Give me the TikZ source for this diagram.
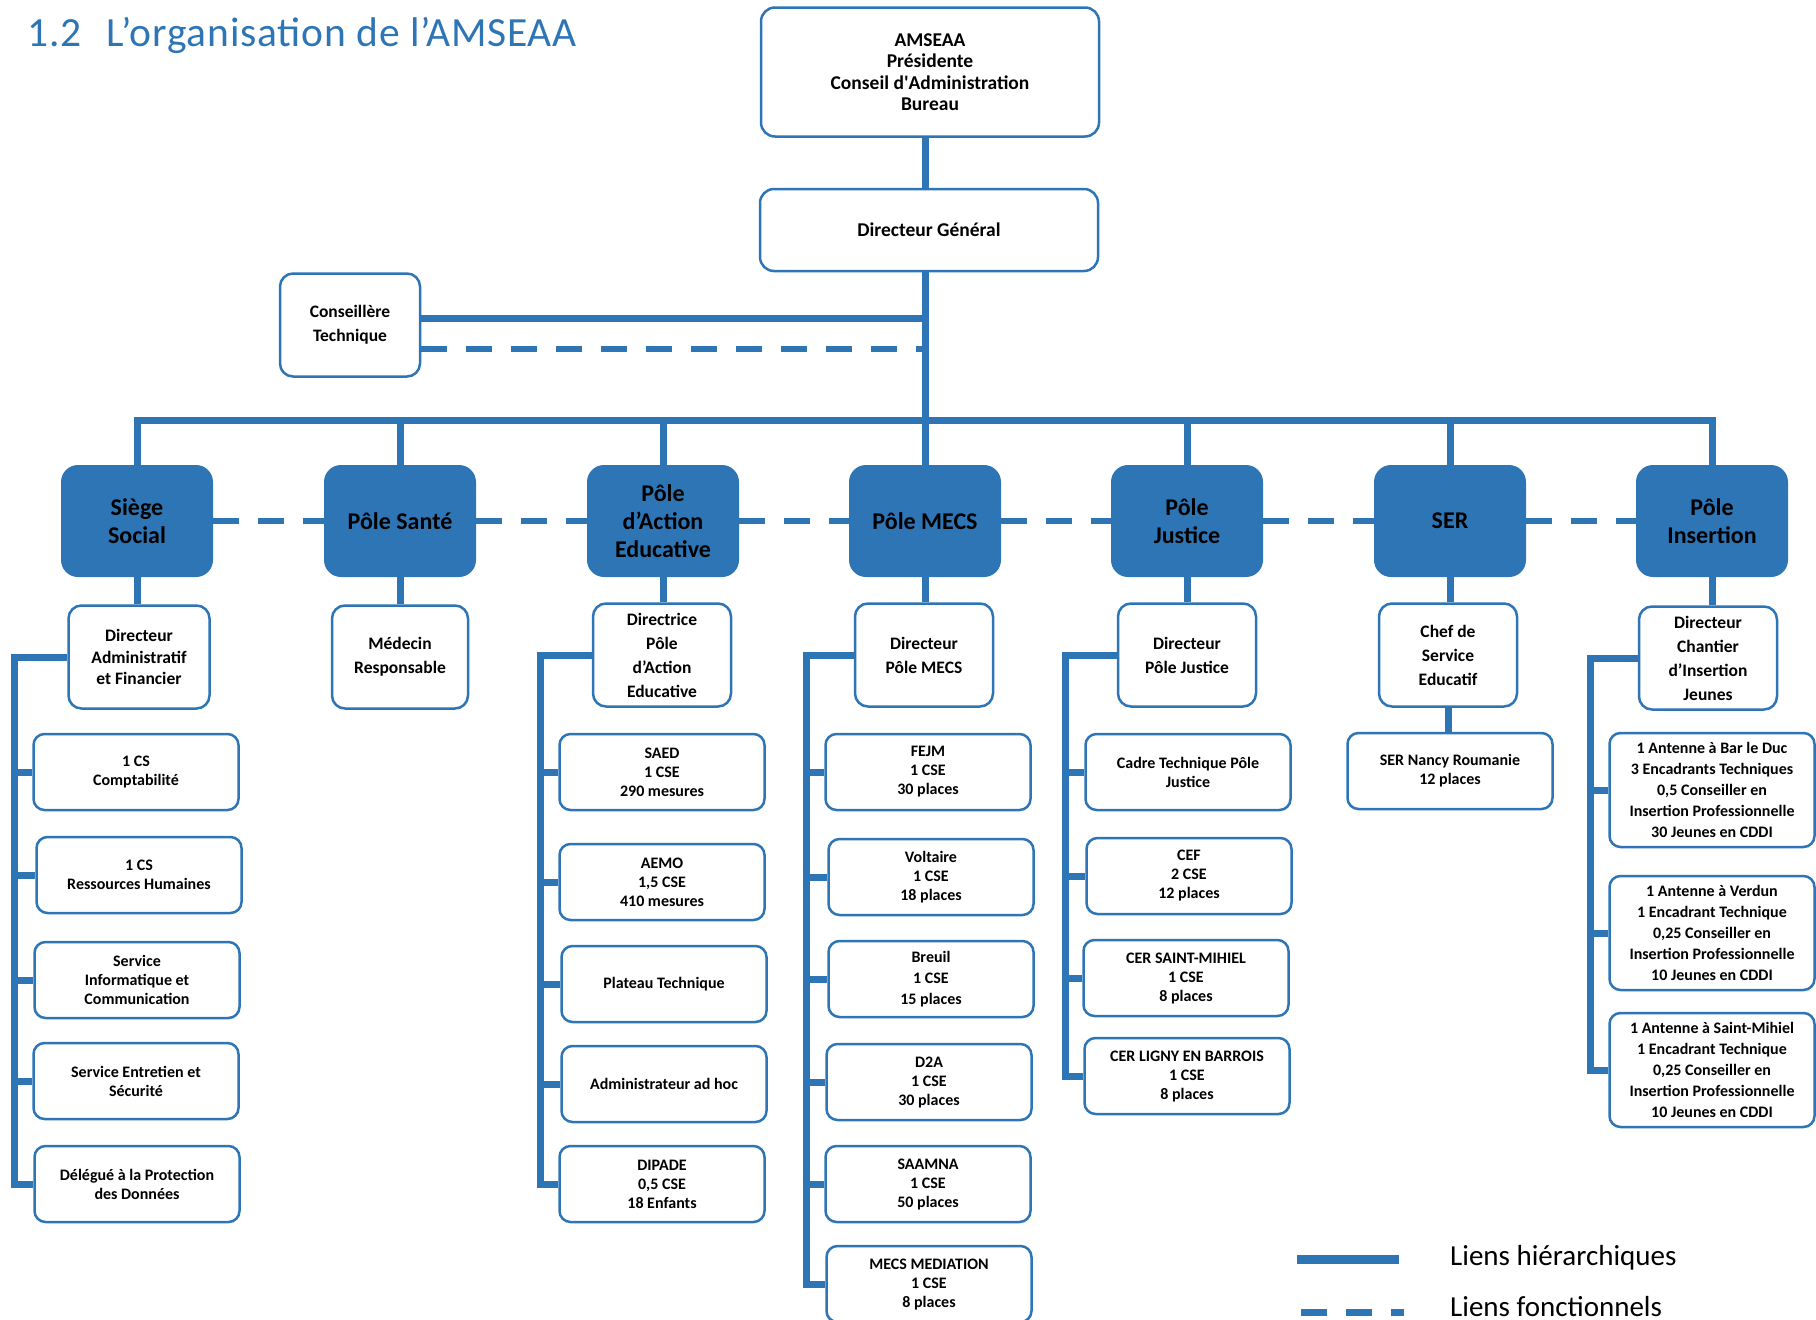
\documentclass[tikz,border=0pt]{standalone}
\usepackage{fontspec}
\setmainfont{Carlito}
\definecolor{amsblue}{RGB}{46,117,182}
\begin{document}
\begin{tikzpicture}[x=1pt, y=-1pt,
  every node/.style={align=center, inner sep=0pt},
  headbox/.style={draw=amsblue, line width=2.5pt, rounded corners=14pt, minimum width=338pt, font=\bfseries\fontsize{19.5}{21.5}\selectfont},
  pole/.style={fill=amsblue, rounded corners=17pt, minimum width=152pt, minimum height=112pt, font=\bfseries\fontsize{24}{28}\selectfont},
  chef/.style={draw=amsblue, line width=2.5pt, rounded corners=13pt, minimum width=138pt, minimum height=103pt, font=\bfseries\fontsize{17.5}{24}\selectfont},
  unit/.style={draw=amsblue, line width=2.5pt, rounded corners=11pt, minimum width=205pt, minimum height=76pt, font=\bfseries\fontsize{16}{19}\selectfont},
  antenne/.style={unit, minimum height=114pt, font=\bfseries\fontsize{16}{21}\selectfont},
  hier/.style={draw=amsblue, line width=7pt},
  fonct/.style={draw=amsblue, line width=6pt, dash pattern=on 26pt off 19pt}]
  \useasboundingbox (0,0) rectangle (1816,1320);
  \node [anchor=base west, text=amsblue, font=\fontsize{41.5}{42}\selectfont\addfontfeature{LetterSpace=2}] (titre) at (27,46.5) {1.2\hspace{25pt}L’organisation de l’AMSEAA};

  \node [headbox, minimum height=129pt] (amseaa) at (930,72) {AMSEAA\\Présidente\\Conseil d\textquotesingle Administration\\Bureau};
  \node [headbox, minimum height=82pt] (dg) at (929,230) {Directeur Général};
  \node [chef, minimum width=140pt] (conseil) at (350,325) {Conseillère\\Technique};

  \node [pole] (siege) at (137,521) {Siège\\Social};
  \node [pole] (sante) at (400,521) {Pôle Santé};
  \node [pole] (pae) at (663,521) {Pôle\\d’Action\\Educative};
  \node [pole] (mecs) at (925,521) {Pôle MECS};
  \node [pole] (justice) at (1187,521) {Pôle\\Justice};
  \node [pole] (ser) at (1450,521) {SER};
  \node [pole] (insertion) at (1712,521) {Pôle\\Insertion};

  \node [chef, minimum width=141pt, font=\bfseries\fontsize{17.5}{21.5}\selectfont] (daf) at (139,657) {Directeur\\Administratif\\et Financier};
  \node [chef, minimum width=136pt] (medecin) at (400,657) {Médecin\\Responsable};
  \node [chef] (dirpae) at (662,655) {Directrice\\Pôle\\d’Action\\Educative};
  \node [chef] (dirmecs) at (924,655) {Directeur\\Pôle MECS};
  \node [chef] (dirjustice) at (1187,655) {Directeur\\Pôle Justice};
  \node [chef] (chefser) at (1448,655) {Chef de\\Service\\Educatif};
  \node [chef] (dirinsertion) at (1708,658) {Directeur\\Chantier\\d’Insertion\\Jeunes};

  \node [unit] (compta) at (136,772) {1 CS\\Comptabilité};
  \node [unit] (rh) at (139,875) {1 CS\\Ressources Humaines};
  \node [unit] (info) at (137,980) {Service\\Informatique et\\Communication};
  \node [unit] (entretien) at (136,1081) {Service Entretien et\\Sécurité};
  \node [unit] (rgpd) at (137,1184) {Délégué à la Protection\\des Données};

  \node [unit] (saed) at (662,772) {SAED\\1 CSE\\290 mesures};
  \node [unit] (aemo) at (662,882) {AEMO\\1,5 CSE\\410 mesures};
  \node [unit] (plateau) at (664,984) {Plateau Technique};
  \node [unit] (adhoc) at (664,1084) {Administrateur ad hoc};
  \node [unit] (dipade) at (662,1184) {DIPADE\\0,5 CSE\\18 Enfants};

  \node [unit] (fejm) at (928,772) {FEJM\\1 CSE\\30 places};
  \node [unit] (voltaire) at (931,877) {Voltaire\\1 CSE\\18 places};
  \node [unit, font=\bfseries\fontsize{16}{21}\selectfont] (breuil) at (931,979) {Breuil\\1 CSE\\15 places};
  \node [unit] (dtwoa) at (929,1082) {D2A\\1 CSE\\30 places};
  \node [unit] (saamna) at (928,1184) {SAAMNA\\1 CSE\\50 places};
  \node [unit] (mediation) at (929,1284) {MECS MEDIATION\\1 CSE\\8 places};

  \node [unit] (cadre) at (1188,772) {Cadre Technique Pôle\\Justice};
  \node [unit] (cef) at (1189,876) {CEF\\2 CSE\\12 places};
  \node [unit] (cersm) at (1186,978) {CER SAINT-MIHIEL\\1 CSE\\8 places};
  \node [unit] (cerlb) at (1187,1076) {CER LIGNY EN BARROIS\\1 CSE\\8 places};

  \node [unit] (nancy) at (1450,771) {SER Nancy Roumanie\\12 places};

  \node [antenne] (bar) at (1712,790) {1 Antenne à Bar le Duc\\3 Encadrants Techniques\\0,5 Conseiller en\\Insertion Professionnelle\\30 Jeunes en CDDI};
  \node [antenne] (verdun) at (1712,933) {1 Antenne à Verdun\\1 Encadrant Technique\\0,25 Conseiller en\\Insertion Professionnelle\\10 Jeunes en CDDI};
  \node [antenne] (stmihiel) at (1712,1070) {1 Antenne à Saint-Mihiel\\1 Encadrant Technique\\0,25 Conseiller en\\Insertion Professionnelle\\10 Jeunes en CDDI};

  \coordinate (bus) at (925,420);
  \coordinate (tsolid) at (925,318);
  \coordinate (tdash) at (925,349);
  \coordinate (sgs) at (14,0);
  \coordinate (sgp) at (540,0);
  \coordinate (sgm) at (806,0);
  \coordinate (sgj) at (1065,0);
  \coordinate (sgi) at (1590,0);

  \draw [hier] (amseaa.south -| bus) -- (dg.north -| bus);
  \draw [hier] (dg.south -| bus) -- (bus);
  \draw [hier] (conseil.east |- tsolid) -- (tsolid);
  \draw [fonct] (conseil.east |- tdash) -- (tdash);
  \draw [hier] (siege.north) |- (bus) -| (insertion.north);
  \draw [hier] (sante.north) -- (sante.north |- bus);
  \draw [hier] (pae.north) -- (pae.north |- bus);
  \draw [hier] (mecs.north) -- (bus);
  \draw [hier] (justice.north) -- (justice.north |- bus);
  \draw [hier] (ser.north) -- (ser.north |- bus);

  \draw [fonct] (siege.east) -- (sante.west);
  \draw [fonct] (sante.east) -- (pae.west);
  \draw [fonct] (pae.east) -- (mecs.west);
  \draw [fonct] (mecs.east) -- (justice.west);
  \draw [fonct] (justice.east) -- (ser.west);
  \draw [fonct] (ser.east) -- (insertion.west);

  \draw [hier] (siege.south) -- (siege.south |- daf.north);
  \draw [hier] (sante.south) -- (sante.south |- medecin.north);
  \draw [hier] (pae.south) -- (pae.south |- dirpae.north);
  \draw [hier] (mecs.south) -- (mecs.south |- dirmecs.north);
  \draw [hier] (justice.south) -- (justice.south |- dirjustice.north);
  \draw [hier] (ser.south) -- (ser.south |- chefser.north);
  \draw [hier] (insertion.south) -- (insertion.south |- dirinsertion.north);
  \draw [hier] (chefser.south) -- (chefser.south |- nancy.north);

  \draw [hier] (daf.west) -| (sgs |- rgpd.west) -- (rgpd.west);
  \draw [hier] (compta.west) -- (compta.west -| sgs);
  \draw [hier] (rh.west) -- (rh.west -| sgs);
  \draw [hier] (info.west) -- (info.west -| sgs);
  \draw [hier] (entretien.west) -- (entretien.west -| sgs);

  \draw [hier] (dirpae.west) -| (sgp |- dipade.west) -- (dipade.west);
  \draw [hier] (saed.west) -- (saed.west -| sgp);
  \draw [hier] (aemo.west) -- (aemo.west -| sgp);
  \draw [hier] (plateau.west) -- (plateau.west -| sgp);
  \draw [hier] (adhoc.west) -- (adhoc.west -| sgp);

  \draw [hier] (dirmecs.west) -| (sgm |- mediation.west) -- (mediation.west);
  \draw [hier] (fejm.west) -- (fejm.west -| sgm);
  \draw [hier] (voltaire.west) -- (voltaire.west -| sgm);
  \draw [hier] (breuil.west) -- (breuil.west -| sgm);
  \draw [hier] (dtwoa.west) -- (dtwoa.west -| sgm);
  \draw [hier] (saamna.west) -- (saamna.west -| sgm);

  \draw [hier] (dirjustice.west) -| (sgj |- cerlb.west) -- (cerlb.west);
  \draw [hier] (cadre.west) -- (cadre.west -| sgj);
  \draw [hier] (cef.west) -- (cef.west -| sgj);
  \draw [hier] (cersm.west) -- (cersm.west -| sgj);

  \draw [hier] (dirinsertion.west) -| (sgi |- stmihiel.west) -- (stmihiel.west);
  \draw [hier] (bar.west) -- (bar.west -| sgi);
  \draw [hier] (verdun.west) -- (verdun.west -| sgi);

  \coordinate (lh1) at (1297,1259);
  \coordinate (lh2) at (1399,1259);
  \coordinate (lf1) at (1301,1312);
  \coordinate (lf2) at (1404,1312);
  \draw [hier, line width=9pt] (lh1) -- (lh2);
  \draw [fonct, line width=7pt] (lf1) -- (lf2);
  \node [anchor=base west, font=\fontsize{29}{30}\selectfont] (lienh) at (1450,1265) {Liens hiérarchiques};
  \node [anchor=base west, font=\fontsize{29}{30}\selectfont] (lienf) at (1450,1316) {Liens fonctionnels};
\end{tikzpicture}
\end{document}
